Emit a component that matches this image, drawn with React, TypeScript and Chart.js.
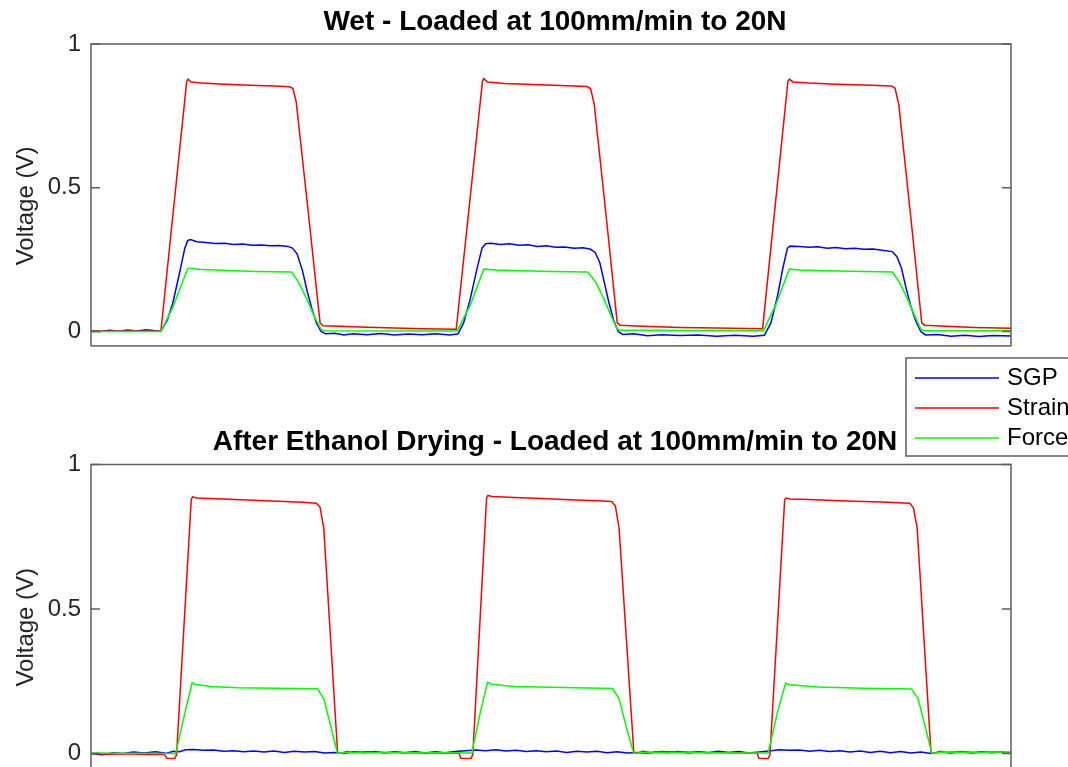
import React, { useEffect, useRef } from "react";
import { Chart, registerables } from "chart.js";

Chart.register(...registerables);

type P = [number, number];

const FONT = '"Liberation Sans", Arial, Helvetica, sans-serif';
const AXIS_COLOR = "#5f5f5f";
const TEXT_COLOR = "#262626";

const seriesLabels = ["SGP", "Strain", "Force"];
const seriesColors = ["#0000ff", "#ff0000", "#00ff00"];
const yTicks = [0, 0.5, 1];
const yLabel = "Voltage (V)";
const titles = [
  "Wet - Loaded at 100mm/min to 20N",
  "After Ethanol Drying - Loaded at 100mm/min to 20N",
];

// ---------- Wet ----------
const wetSGP: P[] = [
  [0, 0.002], [1, 0.0], [2, 0.004], [3, 0.001], [4, 0.005], [5, 0.002], [6, 0.006], [7, 0.003], [7.6, 0.001],
  [8.3, 0.04], [8.9, 0.1], [9.6, 0.2], [10.2, 0.29], [10.5, 0.316], [10.8, 0.32], [11.5, 0.312], [12.5, 0.31],
  [13.5, 0.306], [14.5, 0.307], [15.5, 0.303], [16.5, 0.304], [17.5, 0.3], [18.5, 0.301], [19.5, 0.298],
  [20.5, 0.299], [21.4, 0.296], [21.9, 0.29], [22.4, 0.27], [23.0, 0.21], [23.5, 0.14], [24.0, 0.08],
  [24.5, 0.03], [25.0, 0.0], [25.5, -0.008], [26.5, -0.006], [27.5, -0.012], [28.5, -0.008], [30, -0.011],
  [31.5, -0.007], [33, -0.012], [34.5, -0.009], [36, -0.011], [37.5, -0.008], [39, -0.012], [39.9, -0.008],
  [40.5, 0.03], [41.2, 0.11], [41.9, 0.21], [42.5, 0.29], [42.9, 0.305], [43.5, 0.307], [44.5, 0.303],
  [45.5, 0.305], [46.5, 0.3], [47.5, 0.302], [48.5, 0.296], [49.5, 0.298], [50.5, 0.293], [51.5, 0.294],
  [52.5, 0.29], [53.5, 0.291], [54.3, 0.286], [54.8, 0.275], [55.3, 0.24], [55.8, 0.17], [56.3, 0.1],
  [56.8, 0.04], [57.3, 0.0], [57.8, -0.01], [59, -0.008], [60.5, -0.015], [62, -0.011], [64, -0.014],
  [66, -0.012], [68, -0.016], [70, -0.013], [72, -0.016], [73.2, -0.013],
  [73.9, 0.03], [74.6, 0.12], [75.2, 0.22], [75.7, 0.29], [76.0, 0.297], [77, 0.296], [78, 0.293], [79, 0.295],
  [80, 0.29], [81, 0.292], [82, 0.288], [83, 0.29], [84, 0.286], [85, 0.287], [86, 0.283], [87.1, 0.278],
  [87.6, 0.26], [88.1, 0.22], [88.6, 0.15], [89.1, 0.09], [89.6, 0.04], [90.2, 0.0], [90.7, -0.012],
  [92, -0.01], [93.5, -0.016], [95, -0.013], [96.5, -0.017], [98, -0.014], [100, -0.016],
];

const wetStrain: P[] = [
  [0, 0.002], [2, 0.001], [4, 0.002], [6, 0.001], [7.6, 0.001],
  [10.4, 0.87], [10.55, 0.878], [10.9, 0.868], [12, 0.864], [14, 0.861], [16, 0.858], [18, 0.856], [20, 0.854],
  [21.6, 0.851], [21.95, 0.845], [22.3, 0.8], [23.6, 0.42], [24.9, 0.03], [25.2, 0.02], [27, 0.018],
  [30, 0.015], [33, 0.012], [36, 0.01], [39.7, 0.008],
  [42.55, 0.87], [42.7, 0.88], [43.1, 0.868], [45, 0.863], [48, 0.859], [51, 0.856], [53.9, 0.852],
  [54.3, 0.845], [54.7, 0.79], [56.0, 0.4], [57.2, 0.03], [57.5, 0.022], [60, 0.018], [64, 0.014],
  [68, 0.012], [73.0, 0.01],
  [75.75, 0.87], [75.9, 0.878], [76.3, 0.868], [78, 0.864], [81, 0.86], [84, 0.857], [87.0, 0.854],
  [87.4, 0.846], [87.8, 0.79], [89.1, 0.4], [90.3, 0.03], [90.6, 0.022], [93, 0.018], [96, 0.014], [100, 0.011],
];

const wetForce: P[] = [
  [0, 0.0], [7.6, 0.0], [8.9, 0.085], [10.5, 0.218], [10.7, 0.22], [12, 0.216], [15, 0.212], [18, 0.209],
  [21.8, 0.207], [22.6, 0.17], [23.5, 0.11], [24.3, 0.05], [25.0, 0.008], [25.3, 0.003], [39.8, 0.002],
  [41.2, 0.09], [42.7, 0.217], [44, 0.214], [47, 0.211], [50, 0.209], [54.0, 0.207], [54.9, 0.17],
  [55.8, 0.11], [56.6, 0.05], [57.2, 0.008], [57.5, 0.004], [73.1, 0.003],
  [74.4, 0.09], [75.9, 0.217], [77, 0.214], [80, 0.211], [84, 0.209], [87.1, 0.207], [87.9, 0.17],
  [88.8, 0.11], [89.6, 0.05], [90.2, 0.008], [90.5, 0.003], [100, 0.003],
];

// ---------- After ethanol drying ----------
const drySGP: P[] = [
  [0, 0.0], [1.2, -0.004], [2.4, 0.003], [3.5, 0.0], [4.6, 0.005], [5.8, 0.002], [7.0, 0.006], [8.2, 0.001],
  [9.0, 0.008], [9.6, 0.006], [10.3, 0.013], [11.2, 0.014], [12.2, 0.011], [13.3, 0.012], [14.4, 0.008],
  [15.5, 0.01], [16.6, 0.006], [17.7, 0.009], [18.8, 0.005], [19.9, 0.009], [21.0, 0.004], [22.1, 0.008],
  [23.2, 0.005], [24.3, 0.007], [25.4, 0.002], [26.5, 0.004], [27.5, 0.0], [28.6, 0.006], [29.7, 0.003],
  [30.8, 0.007], [31.9, 0.002], [33.0, 0.006], [34.1, 0.003], [35.2, 0.007], [36.3, 0.002], [37.4, 0.006],
  [38.5, 0.003], [39.6, 0.007], [40.7, 0.01], [41.8, 0.012], [42.9, 0.01], [44.0, 0.013], [45.1, 0.009],
  [46.2, 0.011], [47.3, 0.007], [48.4, 0.01], [49.5, 0.006], [50.6, 0.009], [51.7, 0.004], [52.8, 0.008],
  [53.9, 0.005], [55.0, 0.008], [56.1, 0.003], [57.2, 0.006], [58.3, 0.002], [59.4, 0.004], [60.5, 0.001],
  [61.6, 0.006], [62.7, 0.003], [63.8, 0.007], [64.9, 0.002], [66.0, 0.006], [67.1, 0.003], [68.2, 0.008],
  [69.3, 0.004], [70.4, 0.007], [71.5, 0.002], [72.6, 0.005], [73.7, 0.009], [74.8, 0.013], [75.9, 0.011],
  [77.0, 0.012], [78.1, 0.008], [79.2, 0.011], [80.3, 0.007], [81.4, 0.01], [82.5, 0.005], [83.6, 0.009],
  [84.7, 0.004], [85.8, 0.008], [86.9, 0.003], [88.0, 0.007], [89.1, 0.002], [90.2, 0.005], [91.3, 0.0],
  [92.4, 0.005], [93.5, 0.002], [94.6, 0.006], [95.7, 0.002], [96.8, 0.006], [97.9, 0.003], [99.0, 0.005],
  [100, 0.002],
];

const dryStrain: P[] = [
  [0, 0.0], [2, -0.002], [4, -0.001], [6, -0.003], [8.0, -0.003], [8.25, -0.016], [9.1, -0.017], [9.3, -0.004],
  [10.9, 0.88], [11.05, 0.888], [11.5, 0.884], [13, 0.882], [15, 0.88], [17, 0.877], [19, 0.875], [21, 0.872],
  [23, 0.869], [24.5, 0.866], [24.9, 0.852], [25.3, 0.78], [26.8, 0.005], [27.1, 0.0], [27.8, 0.007],
  [28.5, 0.004], [30, 0.006], [32, 0.004], [35, 0.003], [38, 0.002], [40.0, 0.001],
  [40.2, -0.016], [41.3, -0.017], [41.5, -0.004], [43.0, 0.885], [43.15, 0.893], [43.6, 0.889], [46, 0.886],
  [49, 0.882], [52, 0.878], [55, 0.875], [56.6, 0.872], [57.0, 0.856], [57.4, 0.78], [59.0, 0.005],
  [59.3, 0.0], [60, 0.008], [60.8, 0.004], [62, 0.007], [64, 0.005], [67, 0.004], [70, 0.003], [72.4, 0.002],
  [72.6, -0.016], [73.6, -0.017], [73.8, -0.004], [75.4, 0.878], [75.55, 0.884], [76, 0.881], [78, 0.879],
  [80, 0.876], [83, 0.873], [86, 0.87], [89.0, 0.866], [89.4, 0.85], [89.8, 0.78], [91.3, 0.005],
  [91.6, 0.0], [92.3, 0.008], [93, 0.004], [94.5, 0.007], [96, 0.004], [98, 0.005], [100, 0.003],
];

const dryForce: P[] = [
  [0, 0.002], [4, 0.001], [9.2, 0.0], [10.2, 0.14], [11.0, 0.245], [11.3, 0.24], [13, 0.232], [16, 0.228],
  [20, 0.226], [24.6, 0.224], [25.3, 0.19], [26.1, 0.09], [26.8, 0.0], [27.5, 0.004], [30, 0.003], [35, 0.004],
  [41.4, 0.002], [42.3, 0.14], [43.1, 0.246], [43.5, 0.24], [46, 0.232], [50, 0.229], [56.7, 0.225],
  [57.4, 0.19], [58.2, 0.09], [59.0, 0.0], [60, 0.004], [66, 0.003], [73.6, 0.002], [74.6, 0.14],
  [75.5, 0.243], [76, 0.238], [79, 0.23], [84, 0.226], [89.2, 0.223], [89.9, 0.19], [90.7, 0.09],
  [91.4, 0.0], [92.5, 0.005], [96, 0.004], [100, 0.005],
];

const wetSeries = [wetSGP, wetStrain, wetForce];
const drySeries = [drySGP, dryStrain, dryForce];

const xMin = 0;
const xMax = 100;
const yMin = -0.05;
const yMax = 1;

function makeDatasets(series: P[][]) {
  return series.map((pts, i) => ({
    label: seriesLabels[i],
    data: pts.map(([x, y]) => ({ x, y })),
    borderColor: seriesColors[i],
    backgroundColor: seriesColors[i],
    borderWidth: 1.5,
    pointRadius: 0,
    tension: 0,
    fill: false,
    order: 2 - i,
  }));
}

const boxPlugin = {
  id: "matlabBox",
  afterDatasetsDraw(chart: any) {
    const { ctx, chartArea: a, scales } = chart;
    ctx.save();
    ctx.strokeStyle = AXIS_COLOR;
    ctx.lineWidth = 1.5;
    ctx.strokeRect(a.left, a.top, a.right - a.left, a.bottom - a.top);
    const ys = scales.y;
    ctx.beginPath();
    yTicks.forEach((v) => {
      const py = ys.getPixelForValue(v);
      ctx.moveTo(a.left, py);
      ctx.lineTo(a.left + 9, py);
      ctx.moveTo(a.right, py);
      ctx.lineTo(a.right - 9, py);
    });
    ctx.stroke();
    ctx.restore();
  },
};

function makeLabelPlugin(title: string) {
  return {
    id: "matlabLabels",
    afterDraw(chart: any) {
      const { ctx, chartArea: a } = chart;
      ctx.save();
      ctx.textAlign = "center";
      ctx.textBaseline = "middle";
      ctx.fillStyle = "#000000";
      ctx.font = `bold 28px ${FONT}`;
      ctx.fillText(title, (a.left + a.right) / 2 + 4, a.top - 22);
      ctx.translate(26.4, (a.top + a.bottom) / 2 + 11);
      ctx.rotate(-Math.PI / 2);
      ctx.fillStyle = TEXT_COLOR;
      ctx.font = `24px ${FONT}`;
      ctx.fillText(yLabel, 0, 0);
      ctx.restore();
    },
  };
}

const legendPlugin = {
  id: "boxLegend",
  afterDraw(chart: any) {
    const { ctx } = chart;
    ctx.save();
    ctx.fillStyle = "#ffffff";
    ctx.fillRect(906, 358, 180, 98);
    ctx.strokeStyle = AXIS_COLOR;
    ctx.lineWidth = 1.5;
    ctx.strokeRect(906, 358, 180, 98);
    ctx.font = `24px ${FONT}`;
    ctx.textBaseline = "middle";
    ctx.textAlign = "left";
    chart.data.datasets.forEach((ds: any, i: number) => {
      const yy = 378 + i * 30;
      ctx.strokeStyle = ds.borderColor;
      ctx.lineWidth = 1.5;
      ctx.beginPath();
      ctx.moveTo(915, yy);
      ctx.lineTo(999, yy);
      ctx.stroke();
      ctx.fillStyle = "#000000";
      ctx.fillText(ds.label, 1007, yy);
    });
    ctx.restore();
  },
};

function makeConfig(title: string, series: P[][], padTop: number, padBottom: number, withLegend: boolean): any {
  const labelPlugin = makeLabelPlugin(title);
  return {
    type: "line",
    data: { datasets: makeDatasets(series) },
    plugins: withLegend ? [boxPlugin, labelPlugin, legendPlugin] : [boxPlugin, labelPlugin],
    options: {
      responsive: false,
      animation: false,
      devicePixelRatio: 1,
      layout: { padding: { left: 0, right: 57, top: padTop, bottom: padBottom } },
      plugins: {
        legend: { display: false },
        tooltip: { enabled: false },
        title: { display: false },
      },
      scales: {
        x: { type: "linear", min: xMin, max: xMax, display: false },
        y: {
          type: "linear",
          min: yMin,
          max: yMax,
          afterBuildTicks: (s: any) => {
            s.ticks = yTicks.map((v) => ({ value: v }));
          },
          afterFit: (s: any) => {
            s.width = 91;
          },
          grid: { display: false, drawTicks: false },
          border: { display: false },
          ticks: {
            padding: 10,
            color: TEXT_COLOR,
            font: { family: FONT, size: 24 },
            callback: (v: any) => String(v),
          },
        },
      },
    },
  };
}

export default function App() {
  const topRef = useRef<HTMLCanvasElement>(null);
  const botRef = useRef<HTMLCanvasElement>(null);

  useEffect(() => {
    const c1 = new Chart(
      topRef.current as HTMLCanvasElement,
      makeConfig(titles[0], wetSeries, 44, 460 - 345.9, true)
    );
    const c2 = new Chart(
      botRef.current as HTMLCanvasElement,
      makeConfig(titles[1], drySeries, 44.5, 32, false)
    );
    return () => {
      c1.destroy();
      c2.destroy();
    };
  }, []);

  return (
    <div
      style={{
        position: "fixed",
        left: 0,
        top: 0,
        width: 1068,
        height: 767,
        overflow: "hidden",
        background: "#ffffff",
      }}
    >
      <canvas
        ref={botRef}
        width={1068}
        height={380}
        style={{ position: "absolute", left: 0, top: 420, zIndex: 1 }}
      />
      <canvas
        ref={topRef}
        width={1068}
        height={460}
        style={{ position: "absolute", left: 0, top: 0, zIndex: 2 }}
      />
    </div>
  );
}
